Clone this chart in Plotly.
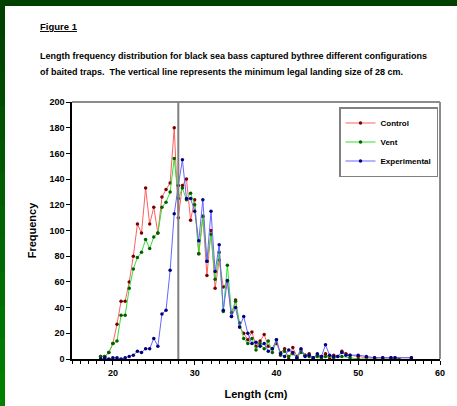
import plotly.graph_objects as go

lengths = [18.5, 19, 19.5, 20, 20.5, 21, 21.5, 22, 22.5, 23, 23.5, 24, 24.5, 25, 25.5,
           26, 26.5, 27, 27.5, 28, 28.5, 29, 29.5, 30, 30.5, 31, 31.5, 32, 32.5, 33,
           33.5, 34, 34.5, 35, 35.5, 36, 36.5, 37, 37.5, 38, 38.5, 39, 39.5, 40, 40.5,
           41, 41.5, 42, 42.5, 43, 43.5, 44, 44.5, 45, 45.5, 46, 46.5, 47, 47.5, 48,
           48.5, 49, 49.5, 50, 50.5, 51, 51.5, 52, 52.5, 53, 53.5, 54, 54.5, 55, 55.5,
           56, 56.5]

control = [2, 2, 5, 12, 27, 45, 45, 60, 80, 105, 98, 133, 105, 118, 98,
           126, 132, 137, 180, 110, 135, 140, 108, 124, 82, 111, 65, 100, 55, 77,
           56, 60, 33, 46, 25, 20, 15, 21, 10, 14, 19, 10, 8, 12, 5,
           8, 0, 9, 2, 7, 3, 4, 1, 3, 2, 4, 1, 3, 2, 6,
           4, 3, None, 2, None, 1, None, 1, None, 1, None, 1, 1, None, None,
           None, 1]

vent = [2, 2, 5, 12, 14, 34, 34, 55, 70, 79, 83, 93, 86, 95, 98,
        118, 122, 130, 156, 125, 133, 124, 129, 120, 82, 111, 76, 97, 62, 83,
        37, 73, 36, 45, 28, 16, 12, 16, 7, 12, 8, 14, 5, 15, 3,
        6, 2, 4, 1, 5, 3, 2, 1, 2, 1, 2, None, 1, None, 2,
        None, 1, None, 0, None, None, None, 0, None, None, None, 0, None, 0, None,
        None, None]

experimental = [0, 1, 0, 1, 1, 0, 1, 2, 3, 6, 5, 8, 8, 16, 10,
                35, 38, 69, 113, 135, 155, 125, 125, 115, 92, 124, 76, 115, 68, 89,
                38, 61, 33, 40, 25, 33, 20, 12, 13, 10, 12, 6, 8, 15, 4,
                2, 7, 5, 1, 8, 2, 3, 1, 4, 2, 11, 3, 2, 2, 5,
                3, 3, None, 3, None, 2, None, 1, None, 1, None, 1, 1, None, None,
                None, 1]

series = [
    ("Control", control, "#ff6060", "#7a0000"),
    ("Vent", vent, "#33e033", "#006000"),
    ("Experimental", experimental, "#6666ff", "#000080"),
]

FONT = "Liberation Sans, Arial, sans-serif"

fig = go.Figure()
for name, vals, lc, mc in series:
    fig.add_trace(go.Scatter(
        x=lengths, y=vals, name=name, mode="lines+markers", connectgaps=True,
        line=dict(color=lc, width=1),
        marker=dict(color=mc, size=3.5, symbol="circle"),
    ))

L, R, T, B = 72, 17, 102, 47
W, H = 457, 406
pw, ph = W - L - R, H - T - B


def px(x):
    return (x - L) / pw


def py(y):
    return (H - B - y) / ph


shapes = [
    dict(type="rect", xref="paper", yref="paper", x0=px(5), x1=px(W + 2), y0=py(H + 2), y1=py(6),
         fillcolor="white", line=dict(width=0), layer="below"),
    dict(type="line", xref="paper", yref="paper", x0=0, x1=1, y0=1, y1=1,
         line=dict(color="#8c8c8c", width=2)),
    dict(type="line", xref="paper", yref="paper", x0=1, x1=1, y0=0, y1=1,
         line=dict(color="#8c8c8c", width=2)),
    dict(type="line", xref="x", yref="paper", x0=28, x1=28, y0=0, y1=1,
         line=dict(color="#808080", width=2)),
]
n = 12
for i in range(n):
    y0 = 6 + (H - 6) * i / n
    y1 = 6 + (H - 6) * (i + 1) / n
    g = int(0x40 + (0x80 - 0x40) * i / (n - 1))
    shapes.append(dict(type="rect", xref="paper", yref="paper", x0=px(-2), x1=px(5),
                       y0=py(y1 + 0.5), y1=py(y0 - 0.5), fillcolor=f"rgb(0,{g},0)",
                       line=dict(width=0), layer="below"))

annotations = [
    dict(text="<b><u>Figure 1</u></b>", xref="paper", yref="paper", x=px(38), y=py(27),
         xanchor="left", yanchor="middle", showarrow=False,
         font=dict(family=FONT, size=9.5, color="black")),
    dict(text="<b>Length frequency distribution for black sea bass captured bythree different configurations</b>",
         xref="paper", yref="paper", x=px(38), y=py(56), xanchor="left", yanchor="middle",
         showarrow=False, font=dict(family=FONT, size=9, color="black")),
    dict(text="<b>of baited traps.  The vertical line represents the minimum legal landing size of 28 cm.</b>",
         xref="paper", yref="paper", x=px(38), y=py(72), xanchor="left", yanchor="middle",
         showarrow=False, font=dict(family=FONT, size=9, color="black")),
]

fig.update_layout(
    width=W, height=H,
    margin=dict(l=L, r=R, t=T, b=B, pad=0, autoexpand=False),
    paper_bgcolor="#004000",
    plot_bgcolor="white",
    font=dict(family=FONT, size=9, color="black"),
    shapes=shapes,
    annotations=annotations,
    showlegend=True,
    legend=dict(
        x=1 - 2 / pw, y=1 - 5 / ph, xanchor="right", yanchor="top",
        bgcolor="white", bordercolor="#808080", borderwidth=1.5,
        font=dict(family=FONT, size=8, color="black", weight="bold"),
        itemwidth=30, tracegroupgap=0,
    ),
    xaxis=dict(
        range=[15, 60], tickvals=[20, 30, 40, 50, 60], ticks="outside", ticklen=4,
        tickwidth=1, tickcolor="black", automargin=False,
        minor=dict(dtick=1, tick0=15, ticks="outside", ticklen=3, tickcolor="black", showgrid=False),
        showline=True, linecolor="black", linewidth=1.5, showgrid=False, zeroline=False,
        tickfont=dict(family=FONT, size=9, weight="bold"),
        title=dict(text="<b>Length (cm)</b>", font=dict(family=FONT, size=11), standoff=14),
    ),
    yaxis=dict(
        range=[0, 200], dtick=20, ticks="outside", ticklen=4, tickwidth=1, tickcolor="black",
        showline=True, linecolor="black", linewidth=1.5, showgrid=False, zeroline=False,
        automargin=False,
        tickfont=dict(family=FONT, size=9, weight="bold"),
        title=dict(text="<b>Frequency</b>", font=dict(family=FONT, size=11), standoff=11),
    ),
)

fig.write_html(
    "out.html",
    config={"displayModeBar": False},
    post_script="document.body.style.margin='0';document.body.style.padding='0';document.body.style.overflow='hidden';",
)
